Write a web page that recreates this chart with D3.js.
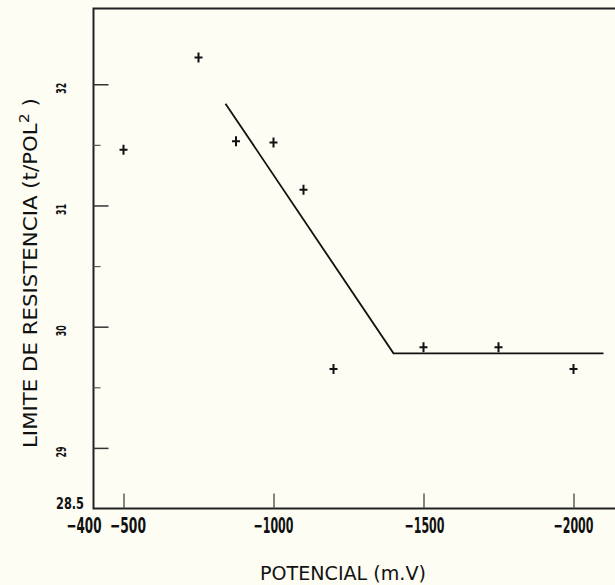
<!DOCTYPE html>
<html>
<head>
<meta charset="utf-8">
<script src="https://cdn.jsdelivr.net/npm/d3@7"></script>
<style>
  body { margin: 0; background: #fdfdf4; }
  svg { display: block; }
  text { fill: #111; }
</style>
</head>
<body>
<script>
// values
var potencial = [-500, -750, -875, -1000, -1100, -1200, -1500, -1750, -2000];
var limite = [31.46, 32.22, 31.53, 31.52, 31.13, 29.65, 29.83, 29.83, 29.65];

var fitX = [-840, -1400, -2100];
var fitY = [31.84, 29.78, 29.78];

var xTicks = [-400, -500, -1000, -1500, -2000];
var xTickLabels = ["\u2212400", "\u2212500", "\u22121000", "\u22121500", "\u22122000"];
var yTicks = [29, 30, 31, 32];
var yTickLabels = ["29", "30", "31", "32"];
var yMinor = [29.5, 30.5, 31.5];

var width = 615, height = 585;
var font = "'Liberation Sans Narrow', 'DejaVu Sans Condensed', 'DejaVu Sans', sans-serif";

var svg = d3.select("body").append("svg")
    .attr("width", width)
    .attr("height", height);

var x = d3.scaleLinear().domain([-400, -2100]).range([93.5, 603.5]);
var y = d3.scaleLinear().domain([28.5, 32.625]).range([508.5, 8.5]);

// squeeze text to a given length along its own direction
function fit(sel, len) {
  sel.each(function() {
    var w = this.getComputedTextLength();
    var t = d3.select(this);
    var s = typeof len === "function" ? len.apply(this, arguments) / w : len / w;
    var ax = +t.attr("x") || 0;
    t.attr("transform", (t.attr("transform") || "") +
      " translate(" + ax + ",0) scale(" + s + ",1) translate(" + (-ax) + ",0)");
  });
}

// frame: left, top and bottom (right side runs off the picture)
svg.append("path")
    .attr("d", "M640,8.5 H93.5 V508.5 H640")
    .attr("fill", "none")
    .attr("stroke", "#222")
    .attr("stroke-width", 2);

// y ticks
var yAxis = d3.axisLeft(y).tickValues(yTicks).tickSize(-15).tickSizeOuter(0).tickFormat("");
var gy = svg.append("g").attr("transform", "translate(93.5,0)").call(yAxis);
gy.select(".domain").remove();
gy.selectAll(".tick line").attr("stroke", "#333").attr("stroke-width", 1.5);

var yAxisMinor = d3.axisLeft(y).tickValues(yMinor).tickSize(-7).tickSizeOuter(0).tickFormat("");
var gym = svg.append("g").attr("transform", "translate(93.5,0)").call(yAxisMinor);
gym.select(".domain").remove();
gym.selectAll(".tick line").attr("stroke", "#555").attr("stroke-width", 1.2);

svg.selectAll(".ylab")
    .data(yTicks)
    .enter().append("text")
    .attr("class", "ylab")
    .attr("transform", function(d) { return "translate(66," + (y(d) + 4) + ") rotate(-90)"; })
    .attr("text-anchor", "middle")
    .style("font-family", font)
    .style("font-weight", "bold")
    .style("font-size", "14px")
    .text(function(d, i) { return yTickLabels[i]; })
    .call(fit, 11);

svg.append("text")
    .attr("x", 56).attr("y", 509)
    .style("font-family", font)
    .style("font-weight", "bold")
    .style("font-size", "16px")
    .text("28.5")
    .call(fit, 28);

// x ticks
var xAxis = d3.axisBottom(x).tickValues(xTicks.slice(1)).tickSize(-15).tickSizeOuter(0).tickFormat("");
var gx = svg.append("g").attr("transform", "translate(0,508.5)").call(xAxis);
gx.select(".domain").remove();
gx.selectAll(".tick line").attr("stroke", "#444").attr("stroke-width", 1.3);

var xLabW = [35, 36, 40, 40, 40];
var xLabDx = [-9.5, 4.5, 0, 1, 0];
svg.selectAll(".xlab")
    .data(xTicks)
    .enter().append("text")
    .attr("class", "xlab")
    .attr("x", function(d, i) { return x(d) + xLabDx[i]; })
    .attr("y", 533)
    .attr("text-anchor", "middle")
    .style("font-family", font)
    .style("font-weight", "bold")
    .style("font-size", "21px")
    .text(function(d, i) { return xTickLabels[i]; })
    .call(fit, function(d, i) { return xLabW[i]; });

// axis titles
svg.append("text")
    .attr("x", 343).attr("y", 580)
    .attr("text-anchor", "middle")
    .style("font-family", font)
    .style("font-size", "19px")
    .text("POTENCIAL  (m.V)")
    .call(fit, 166);

var yt = svg.append("text")
    .attr("transform", "translate(37,448) rotate(-90)")
    .attr("x", 0).attr("y", 0)
    .style("font-family", font)
    .style("font-size", "19px");
yt.append("tspan").text("LIMITE  DE  RESISTENCIA  (t/POL");
yt.append("tspan").attr("dy", -8).style("font-size", "14px").text("2");
yt.append("tspan").attr("dy", 8).text("  )");
yt.call(fit, 350);

// fitted line
var line = d3.line()
    .x(function(d) { return x(d[0]); })
    .y(function(d) { return y(d[1]); });

svg.append("path")
    .attr("d", line(d3.zip(fitX, fitY)))
    .attr("fill", "none")
    .attr("stroke", "#111")
    .attr("stroke-width", 1.8);

// points as plus marks
svg.selectAll(".pt")
    .data(d3.zip(potencial, limite))
    .enter().append("path")
    .attr("class", "pt")
    .attr("d", function(d) {
      var px = x(d[0]), py = y(d[1]);
      return "M" + (px - 4) + "," + py + "H" + (px + 4) +
             "M" + px + "," + (py - 5) + "V" + (py + 5);
    })
    .attr("stroke", "#111")
    .attr("stroke-width", 2)
    .attr("fill", "none");
</script>
</body>
</html>
